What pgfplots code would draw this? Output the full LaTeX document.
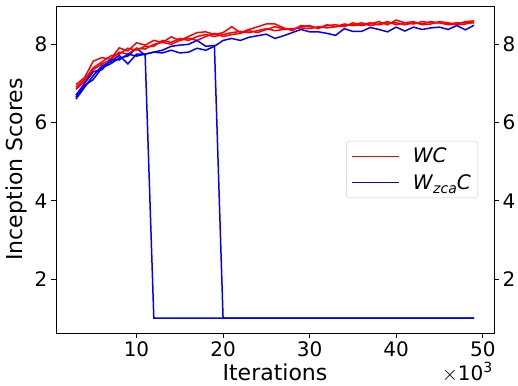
\documentclass[border=0pt]{standalone}
\usepackage{fontspec}
\setmainfont{DejaVu Sans}
\usepackage{pgfplots}
\pgfplotsset{compat=1.18}
\usepackage{pgfplotstable}
\pgfplotstableread{
x rA rB rC bA bB bC
3 6.97 6.90 6.85 6.65 6.60 6.70
4 7.15 7.10 7.05 6.95 6.90 7.00
5 7.57 7.40 7.35 7.10 7.20 7.30
6 7.66 7.55 7.50 7.40 7.45 7.35
7 7.62 7.70 7.60 7.50 7.55 7.60
8 7.91 7.75 7.80 7.65 7.72 7.60
9 7.83 7.90 7.75 7.70 7.50 7.75
10 8.04 7.85 7.90 7.90 7.75 7.70
11 7.98 7.95 7.88 7.72 7.75 7.75
12 8.10 7.95 8.00 1.00 7.80 7.80
13 8.05 8.10 8.05 1.00 7.85 7.78
14 8.19 8.05 8.00 1.00 7.95 7.85
15 8.10 8.15 8.10 1.00 7.98 7.78
16 8.20 8.10 8.15 1.00 8.00 7.80
17 8.30 8.20 8.10 1.00 8.10 7.90
18 8.32 8.25 8.20 1.00 7.95 7.85
19 8.25 8.20 8.28 1.00 7.97 7.95
20 8.30 8.25 8.20 1.00 1.00 8.10
21 8.45 8.30 8.25 1.00 1.00 8.15
22 8.30 8.33 8.28 1.00 1.00 8.10
23 8.38 8.30 8.35 1.00 1.00 8.18
24 8.45 8.35 8.30 1.00 1.00 8.22
25 8.52 8.40 8.38 1.00 1.00 8.26
26 8.52 8.35 8.45 1.00 1.00 8.15
27 8.42 8.38 8.40 1.00 1.00 8.22
28 8.35 8.40 8.38 1.00 1.00 8.30
29 8.48 8.42 8.45 1.00 1.00 8.38
30 8.45 8.40 8.48 1.00 1.00 8.32
31 8.42 8.45 8.40 1.00 1.00 8.32
32 8.48 8.42 8.50 1.00 1.00 8.28
33 8.50 8.45 8.45 1.00 1.00 8.23
34 8.45 8.52 8.48 1.00 1.00 8.40
35 8.55 8.48 8.50 1.00 1.00 8.33
36 8.48 8.50 8.55 1.00 1.00 8.33
37 8.52 8.55 8.48 1.00 1.00 8.43
38 8.58 8.50 8.52 1.00 1.00 8.38
39 8.50 8.55 8.58 1.00 1.00 8.32
40 8.62 8.55 8.50 1.00 1.00 8.44
41 8.55 8.50 8.55 1.00 1.00 8.34
42 8.52 8.55 8.58 1.00 1.00 8.44
43 8.58 8.52 8.50 1.00 1.00 8.38
44 8.55 8.58 8.52 1.00 1.00 8.42
45 8.55 8.55 8.58 1.00 1.00 8.44
46 8.50 8.52 8.55 1.00 1.00 8.38
47 8.52 8.55 8.50 1.00 1.00 8.48
48 8.58 8.55 8.52 1.00 1.00 8.37
49 8.60 8.55 8.57 1.00 1.00 8.49
}\data
\newcommand{\tfs}{\fontsize{20}{23}\selectfont}
\newcommand{\lfs}{\fontsize{22}{25}\selectfont}
\begin{document}
\begin{tikzpicture}
\pgfplotsset{
  common/.style={
    width=438pt, height=327pt, scale only axis,
    xmin=0.7, xmax=51.3, ymin=0.62, ymax=8.98,
    ytick={2,4,6,8},
    tick align=outside,
    major tick length=5pt,
    tick style={black, line width=0.8pt},
    axis line style={line width=0.8pt},
    ticklabel style={font=\tfs},
    label style={font=\lfs},
    /pgf/number format/assume math mode=true,
  }
}
\begin{axis}[common,
  at={(0,0)}, anchor=south west,
  xtick={10,20,30,40,50},
  ytick pos=left, xtick pos=bottom,
  xlabel={Iterations},
  ylabel={Inception Scores},
  xlabel style={at={(axis description cs:0.5,-0.144)}, anchor=base},
  ylabel style={at={(axis description cs:-0.0913,0.5)}, anchor=center},
  legend style={at={(1,0.5)}, anchor=east, xshift=-16pt, font=\tfs,
    draw=black!20, rounded corners=3pt, inner xsep=5pt, inner ysep=5pt,
    row sep=6pt},
  legend cell align=left,
  legend image code/.code={\draw[#1, line width=1.5pt] (0pt,0pt) -- (47pt,0pt);},
  after end axis/.code={
    \node[anchor=base east, font=\tfs, inner sep=0pt] at ([yshift=-47pt,xshift=-1pt]rel axis cs:1,0) {$\times$10\textsuperscript{3}};
  },
]
\addplot[red, line width=1.5pt] table[x=x, y=rA] {\data};
\addlegendentry{\hspace{11pt}\textit{WC}}
\addplot[blue, line width=1.5pt] table[x=x, y=bA] {\data};
\addlegendentry{\hspace{11pt}\textit{W}\raisebox{-0.35ex}{\fontsize{14}{14}\selectfont\textit{zca}}\textit{C}}
\addplot[red, line width=1.5pt, forget plot] table[x=x, y=rB] {\data};
\addplot[red, line width=1.5pt, forget plot] table[x=x, y=rC] {\data};
\addplot[blue, line width=1.5pt, forget plot] table[x=x, y=bB] {\data};
\addplot[blue, line width=1.5pt, forget plot] table[x=x, y=bC] {\data};
\end{axis}
\begin{axis}[common,
  at={(0,0)}, anchor=south west,
  axis x line=none,
  axis y line*=right,
]
\addplot[draw=none] coordinates {(3,2)};
\end{axis}
\pgfresetboundingbox
\useasboundingbox (-56pt,-52pt) rectangle (462pt,333pt);
\end{tikzpicture}
\end{document}
